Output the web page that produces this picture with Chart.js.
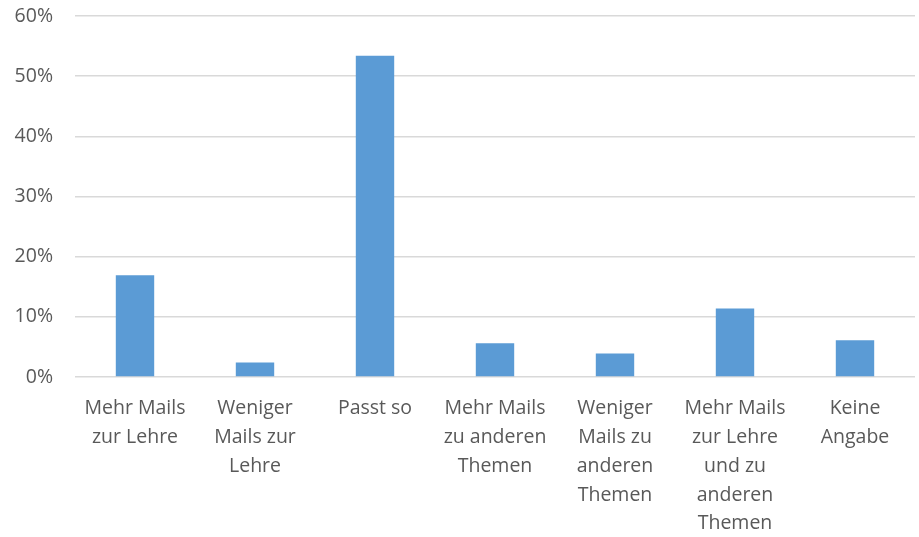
<!DOCTYPE html>
<html>
<head>
<meta charset="utf-8">
<script src="https://cdn.jsdelivr.net/npm/chart.js@4/dist/chart.umd.min.js"></script>
<style>
  html, body { margin: 0; padding: 0; background: #fff; }
  #wrap { width: 919px; height: 537px; position: relative; }
</style>
</head>
<body>
<div id="wrap"><canvas id="mailChart"></canvas></div>
<script>
// answer categories, already broken into lines as they appear under the axis
const categories = [
    ['Mehr Mails', 'zur Lehre'],
    ['Weniger', 'Mails zur', 'Lehre'],
    ['Passt so'],
    ['Mehr Mails', 'zu anderen', 'Themen'],
    ['Weniger', 'Mails zu', 'anderen', 'Themen'],
    ['Mehr Mails', 'zur Lehre', 'und zu', 'anderen', 'Themen'],
    ['Keine', 'Angabe']
];
// share of answers in percent
const shares = [16.9, 2.4, 53.4, 5.6, 3.9, 11.4, 6.1];
const yTicks = [0, 10, 20, 30, 40, 50, 60];

const textColor = '#595959';
const fontFamily = "'Open Sans', sans-serif";

new Chart(document.getElementById('mailChart').getContext('2d'), {
    type: 'bar',
    data: {
        labels: categories,
        datasets: [{
            data: shares,
            backgroundColor: '#5b9bd5',
            barPercentage: 0.32,
            categoryPercentage: 1
        }]
    },
    options: {
        responsive: true,
        maintainAspectRatio: false,
        animation: false,
        plugins: {
            legend: { display: false },
            tooltip: { enabled: false }
        },
        layout: {
            padding: { top: 16, right: 4, bottom: 0, left: 0 }
        },
        scales: {
            x: {
                grid: { display: false },
                border: { display: false },
                ticks: {
                    color: textColor,
                    maxRotation: 0,
                    autoSkip: false,
                    padding: 9,
                    font: { size: 19.5, family: fontFamily, lineHeight: 1.48 }
                },
                afterFit: function(scale) { scale.height = 160; }
            },
            y: {
                min: yTicks[0],
                max: yTicks[yTicks.length - 1],
                afterBuildTicks: function(scale) {
                    scale.ticks = yTicks.map(v => ({ value: v }));
                },
                ticks: {
                    color: textColor,
                    padding: 22,
                    font: { size: 19.5, family: fontFamily },
                    callback: v => v + '%'
                },
                grid: {
                    color: '#d9d9d9',
                    lineWidth: 1.5,
                    drawTicks: false
                },
                border: { display: false },
                afterFit: function(scale) {
                    scale.width = 75;
                    // the top label may overhang into the outer padding
                    scale.paddingTop = 0;
                    scale.paddingBottom = 0;
                }
            }
        }
    }
});
</script>
</body>
</html>
